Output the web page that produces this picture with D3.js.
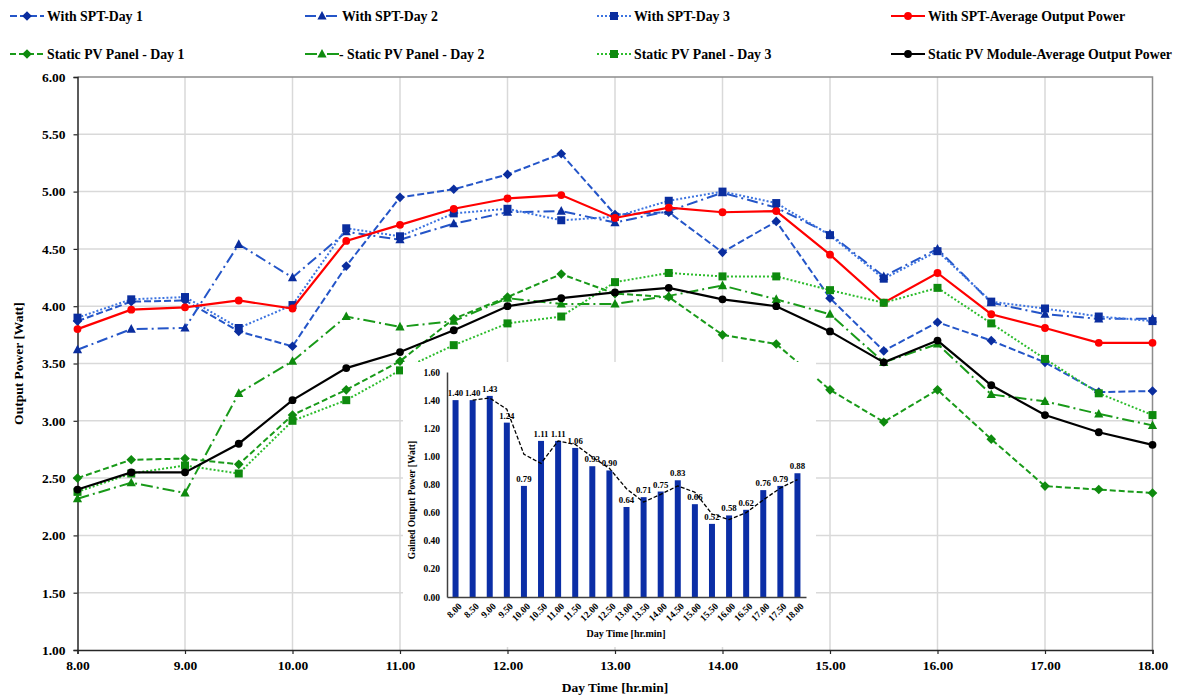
<!DOCTYPE html>
<html>
<head>
<meta charset="utf-8">
<script src="https://cdn.jsdelivr.net/npm/d3@7"></script>
<style>
  body { margin: 0; background: #fff; }
  svg { display: block; font-family: 'Liberation Serif', 'Times New Roman', serif; font-weight: bold; }
</style>
</head>
<body>
<script>
// time of day (hr.min), half hour steps
var hours = [8.0, 8.5, 9.0, 9.5, 10.0, 10.5, 11.0, 11.5, 12.0, 12.5, 13.0, 13.5, 14.0, 14.5, 15.0, 15.5, 16.0, 16.5, 17.0, 17.5, 18.0];

var sptDay1 = [3.87, 4.04, 4.05, 3.78, 3.65, 4.35, 4.95, 5.02, 5.15, 5.33, 4.80, 4.82, 4.47, 4.74, 4.07, 3.61, 3.86, 3.70, 3.51, 3.25, 3.26];
var sptDay2 = [3.62, 3.80, 3.81, 4.54, 4.25, 4.65, 4.58, 4.72, 4.82, 4.83, 4.73, 4.83, 4.99, 4.86, 4.63, 4.26, 4.50, 4.03, 3.93, 3.89, 3.89];
var sptDay3 = [3.90, 4.06, 4.08, 3.81, 4.01, 4.68, 4.61, 4.81, 4.85, 4.75, 4.78, 4.92, 5.00, 4.90, 4.62, 4.24, 4.48, 4.04, 3.98, 3.91, 3.87];
var sptAvg = [3.80, 3.97, 3.99, 4.05, 3.98, 4.57, 4.71, 4.85, 4.94, 4.97, 4.77, 4.86, 4.82, 4.83, 4.45, 4.03, 4.29, 3.93, 3.81, 3.68, 3.68];

var staticDay1 = [2.50, 2.66, 2.67, 2.62, 3.05, 3.27, 3.52, 3.89, 4.08, 4.28, 4.11, 4.08, 3.75, 3.67, 3.27, 2.99, 3.27, 2.84, 2.43, 2.40, 2.37];
var staticDay2 = [2.32, 2.46, 2.37, 3.24, 3.52, 3.91, 3.82, 3.87, 4.07, 4.02, 4.02, 4.09, 4.18, 4.06, 3.93, 3.51, 3.67, 3.23, 3.17, 3.06, 2.96];
var staticDay3 = [2.38, 2.54, 2.61, 2.54, 3.00, 3.18, 3.44, 3.66, 3.85, 3.91, 4.21, 4.29, 4.26, 4.26, 4.14, 4.03, 4.16, 3.85, 3.54, 3.24, 3.05];
var staticAvg = [2.40, 2.55, 2.55, 2.80, 3.18, 3.46, 3.60, 3.79, 4.00, 4.07, 4.12, 4.16, 4.06, 4.00, 3.78, 3.51, 3.70, 3.31, 3.05, 2.90, 2.79];

// inset: gained power and its trend line (trend starts at 8.50)
var gained = [1.40, 1.40, 1.43, 1.24, 0.79, 1.11, 1.11, 1.06, 0.93, 0.90, 0.64, 0.71, 0.75, 0.83, 0.66, 0.52, 0.58, 0.62, 0.76, 0.79, 0.88];
var gainedTrend = [1.40, 1.415, 1.335, 1.015, 0.95, 1.11, 1.085, 0.995, 0.915, 0.77, 0.675, 0.73, 0.79, 0.745, 0.59, 0.55, 0.60, 0.69, 0.775, 0.835];

var yTicks = [1.0, 1.5, 2.0, 2.5, 3.0, 3.5, 4.0, 4.5, 5.0, 5.5, 6.0];
var xTicks = [8, 9, 10, 11, 12, 13, 14, 15, 16, 17, 18];
var insetTicks = [0, 0.2, 0.4, 0.6, 0.8, 1.0, 1.2, 1.4, 1.6];

var seriesNames = ['With SPT-Day 1', 'With SPT-Day 2', 'With SPT-Day 3', 'With SPT-Average Output Power',
  'Static PV Panel - Day 1', ' - Static PV Panel - Day 2', 'Static PV Panel - Day 3', 'Static PV Module-Average Output Power'];
var seriesValues = [sptDay1, sptDay2, sptDay3, sptAvg, staticDay1, staticDay2, staticDay3, staticAvg];

var blueLine = '#2455c8', blueMark = '#0a2d9e';
var greenLine = '#199a19', greenMark = '#0e8a0e';
var styles = [
  { line: blueLine, mark: blueMark, dash: '7,3', width: 2, shape: 'diamond' },
  { line: blueLine, mark: blueMark, dash: '11,4,2,4', width: 2, shape: 'triangle' },
  { line: '#3d74e0', mark: blueMark, dash: '2,2', width: 2, shape: 'square' },
  { line: '#ff0000', mark: '#ff0000', dash: null, width: 2.2, shape: 'circle' },
  { line: greenLine, mark: greenMark, dash: '6,3', width: 2, shape: 'diamond' },
  { line: greenLine, mark: greenMark, dash: '12,4,2,4', width: 2, shape: 'triangle' },
  { line: '#2cbc2c', mark: greenMark, dash: '2,2', width: 2, shape: 'square' },
  { line: '#000000', mark: '#000000', dash: null, width: 2.2, shape: 'circle' }
];

function markerPath(shape) {
  if (shape === 'diamond') return 'M0,-4.8L4.8,0L0,4.8L-4.8,0Z';
  if (shape === 'square') return 'M-4,-4H4V4H-4Z';
  if (shape === 'triangle') return 'M0,-5L4.6,3.6H-4.6Z';
  return d3.symbol(d3.symbolCircle, 48)();
}

var width = 1178, height = 697;
var plot = { left: 77.5, right: 1152.5, top: 77, bottom: 650 };

var svg = d3.select('body').append('svg')
  .attr('width', width)
  .attr('height', height);

var x = d3.scaleLinear().domain([8, 18]).range([plot.left, plot.right]);
var y = d3.scaleLinear().domain([1, 6]).range([plot.bottom, plot.top]);

// grid
svg.append('g')
  .selectAll('line')
  .data(yTicks.slice(1, -1))
  .enter()
  .append('line')
  .attr('x1', plot.left).attr('x2', plot.right)
  .attr('y1', function(d) { return y(d); })
  .attr('y2', function(d) { return y(d); })
  .attr('stroke', '#d9d9d9')
  .attr('stroke-width', 1.5);

svg.append('g')
  .selectAll('line')
  .data(xTicks.slice(1, -1))
  .enter()
  .append('line')
  .attr('y1', plot.top).attr('y2', plot.bottom)
  .attr('x1', function(d) { return x(d); })
  .attr('x2', function(d) { return x(d); })
  .attr('stroke', '#d9d9d9')
  .attr('stroke-width', 1.5);

// plot frame top / right
svg.append('path')
  .attr('d', 'M' + plot.left + ',' + plot.top + 'H' + plot.right + 'V' + plot.bottom)
  .attr('fill', 'none')
  .attr('stroke', '#8c8c8c')
  .attr('stroke-width', 1.5);

// axes
var yAxis = svg.append('g')
  .attr('transform', 'translate(' + plot.left + ',0)')
  .call(d3.axisLeft(y).tickValues(yTicks).tickFormat(d3.format('.2f')).tickSize(4).tickPadding(8));
var xAxis = svg.append('g')
  .attr('transform', 'translate(0,' + plot.bottom + ')')
  .call(d3.axisBottom(x).tickValues(xTicks).tickFormat(d3.format('.2f')).tickSize(4).tickPadding(6));

[yAxis, xAxis].forEach(function(g) {
  g.select('.domain').attr('stroke', '#262626').attr('stroke-width', 1.5);
  g.selectAll('.tick line').attr('stroke', '#262626').attr('stroke-width', 1.2);
  g.selectAll('text')
    .attr('font-family', 'Liberation Serif, serif')
    .attr('font-weight', 'bold')
    .attr('font-size', '13.5px')
    .attr('fill', '#000');
});

svg.append('text')
  .attr('x', (plot.left + plot.right) / 2)
  .attr('y', 692)
  .attr('text-anchor', 'middle')
  .attr('font-size', '13.5px')
  .text('Day Time [hr.min]');

svg.append('text')
  .attr('transform', 'translate(23,' + ((plot.top + plot.bottom) / 2) + ') rotate(-90)')
  .attr('text-anchor', 'middle')
  .attr('font-size', '13.5px')
  .text('Output Power [Watt]');

// series
var line = d3.line()
  .x(function(d, i) { return x(hours[i]); })
  .y(function(d) { return y(d); });

seriesValues.forEach(function(values, s) {
  var st = styles[s];
  var g = svg.append('g');
  g.append('path')
    .attr('d', line(values))
    .attr('fill', 'none')
    .attr('stroke', st.line)
    .attr('stroke-width', st.width)
    .attr('stroke-dasharray', st.dash);
  g.selectAll('path.mark')
    .data(values)
    .enter()
    .append('path')
    .attr('class', 'mark')
    .attr('d', markerPath(st.shape))
    .attr('transform', function(d, i) { return 'translate(' + x(hours[i]) + ',' + y(d) + ')'; })
    .attr('fill', st.mark);
});

// legend
var legendCols = [10, 305, 597, 891];
var legendRows = [16, 54];
seriesNames.forEach(function(name, s) {
  var st = styles[s];
  var lx = legendCols[s % 4];
  var ly = legendRows[Math.floor(s / 4)];
  var g = svg.append('g').attr('transform', 'translate(' + lx + ',' + ly + ')');
  g.append('line')
    .attr('x1', 0).attr('x2', 34)
    .attr('y1', 0).attr('y2', 0)
    .attr('stroke', st.line)
    .attr('stroke-width', st.width)
    .attr('stroke-dasharray', st.dash);
  g.append('path')
    .attr('d', markerPath(st.shape))
    .attr('transform', 'translate(17,0)')
    .attr('fill', st.mark);
  g.append('text')
    .attr('x', s === 5 ? 34 : 37)
    .attr('y', 4.5)
    .attr('font-size', '13.8px')
    .text(name);
});

// inset chart
svg.append('rect')
  .attr('x', 403).attr('y', 362)
  .attr('width', 413).attr('height', 285)
  .attr('fill', '#fff');

var ix = d3.scaleBand()
  .domain(hours)
  .range([447, 806])
  .paddingInner(0.65)
  .paddingOuter(0.325);
var iy = d3.scaleLinear().domain([0, 1.6]).range([597, 372]);

var inset = svg.append('g');

inset.selectAll('rect')
  .data(gained)
  .enter()
  .append('rect')
  .attr('x', function(d, i) { return ix(hours[i]); })
  .attr('y', function(d) { return iy(d); })
  .attr('width', ix.bandwidth())
  .attr('height', function(d) { return iy(0) - iy(d); })
  .attr('fill', '#0b2ea6');

inset.selectAll('text.val')
  .data(gained)
  .enter()
  .append('text')
  .attr('class', 'val')
  .attr('x', function(d, i) { return ix(hours[i]) + ix.bandwidth() / 2; })
  .attr('y', function(d) { return iy(d) - 4; })
  .attr('text-anchor', 'middle')
  .attr('font-size', '8.8px')
  .text(function(d) { return d.toFixed(2); });

var trendLine = d3.line()
  .x(function(d, i) { return ix(hours[i + 1]) + ix.bandwidth() / 2; })
  .y(function(d) { return iy(d); });

inset.append('path')
  .attr('d', trendLine(gainedTrend))
  .attr('fill', 'none')
  .attr('stroke', '#000')
  .attr('stroke-width', 1.3)
  .attr('stroke-dasharray', '4,2');

var iyAxis = inset.append('g')
  .attr('transform', 'translate(447,0)')
  .call(d3.axisLeft(iy).tickValues(insetTicks).tickFormat(d3.format('.2f')).tickSize(0).tickPadding(7));
var ixAxis = inset.append('g')
  .attr('transform', 'translate(0,597)')
  .call(d3.axisBottom(ix).tickFormat(d3.format('.2f')).tickSize(0).tickPadding(4));

[iyAxis, ixAxis].forEach(function(g) {
  g.select('.domain').attr('stroke', '#404040').attr('stroke-width', 1.5);
  g.selectAll('text')
    .attr('font-family', 'Liberation Serif, serif')
    .attr('font-weight', 'bold')
    .attr('font-size', '9.5px')
    .attr('fill', '#000');
});

ixAxis.selectAll('text')
  .attr('text-anchor', 'end')
  .attr('dy', '0.3em')
  .attr('transform', 'translate(2,5) rotate(-45)');

inset.append('text')
  .attr('x', 626)
  .attr('y', 637)
  .attr('text-anchor', 'middle')
  .attr('font-size', '10px')
  .text('Day Time [hr.min]');

inset.append('text')
  .attr('transform', 'translate(415,500) rotate(-90)')
  .attr('text-anchor', 'middle')
  .attr('font-size', '9.5px')
  .text('Gained Output Power [Watt]');
</script>
</body>
</html>
